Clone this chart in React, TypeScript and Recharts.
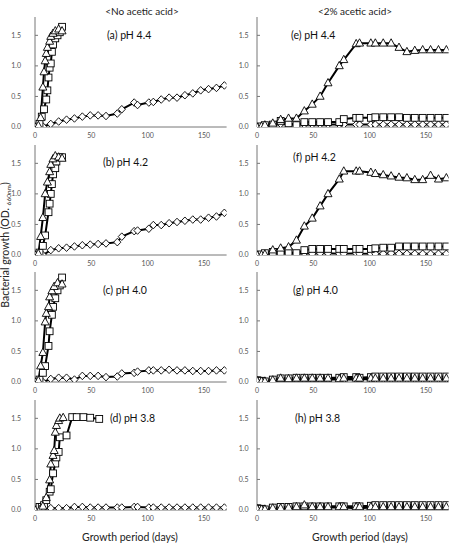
import React from 'react';
import { LineChart, Line, XAxis, YAxis } from 'recharts';

// ---------- data ----------
const DAYS_LONG = [0, 4, 7, 14, 21, 28, 35, 42, 49, 56, 63, 73, 77, 88, 91, 101, 105, 112, 119, 126, 133, 140, 147, 154, 161, 168];
const X_TICKS = [0, 50, 100, 150];
const Y_TICKS = [0, 0.5, 1.0, 1.5];

// (a) pH 4.4, no acetic acid
const A_TRI_DAYS = [0, 3, 5, 7, 8, 9, 10, 11, 13, 14, 16, 18, 21, 24];
const A_TRI = [0, 0.02, 0.15, 0.65, 0.9, 1.08, 1.2, 1.3, 1.4, 1.48, 1.53, 1.57, 1.6, 1.57];
const A_SQ_DAYS = [0, 4, 6, 8, 10, 11, 12, 13, 14, 15, 16, 18, 20, 22, 24];
const A_SQ = [0, 0.05, 0.17, 0.29, 0.45, 0.6, 0.81, 0.97, 1.04, 1.23, 1.35, 1.45, 1.5, 1.55, 1.64];
const A_DIA = [0, 0.04, 0.01, 0.05, 0.09, 0.12, 0.14, 0.17, 0.19, 0.19, 0.18, 0.22, 0.29, 0.4, 0.36, 0.4, 0.41, 0.45, 0.48, 0.48, 0.52, 0.55, 0.6, 0.62, 0.64, 0.68];

// (b) pH 4.2
const B_TRI_DAYS = [0, 3, 5, 7, 9, 11, 13, 14, 16, 18, 21, 24];
const B_TRI = [0, 0.02, 0.3, 0.61, 1.0, 1.19, 1.36, 1.48, 1.57, 1.62, 1.6, 1.58];
const B_SQ_DAYS = [0, 4, 7, 9, 12, 13, 14, 15, 16, 18, 19, 22, 24];
const B_SQ = [0, 0.04, 0.15, 0.32, 0.7, 0.84, 1.0, 1.16, 1.32, 1.42, 1.53, 1.6, 1.6];
const B_DIA = [0, 0.03, 0, 0.08, 0.11, 0.12, 0.14, 0.16, 0.17, 0.18, 0.19, 0.21, 0.3, 0.39, 0.4, 0.43, 0.49, 0.49, 0.52, 0.54, 0.56, 0.58, 0.58, 0.61, 0.63, 0.69];

// (c) pH 4.0
const C_TRI_DAYS = [0, 3, 5, 7, 9, 10, 12, 13, 15, 17, 20, 24];
const C_TRI = [0, 0.02, 0.26, 0.48, 0.98, 1.12, 1.23, 1.39, 1.49, 1.56, 1.62, 1.6];
const C_SQ_DAYS = [0, 4, 7, 9, 12, 13, 15, 16, 18, 20, 22, 24];
const C_SQ = [0, 0.04, 0.15, 0.26, 0.59, 0.83, 1.1, 1.23, 1.37, 1.5, 1.58, 1.71];
const C_DIA = [0, 0.02, 0, 0.05, 0.07, 0.07, 0.04, 0.1, 0.1, 0.1, 0.08, 0.09, 0.14, 0.15, 0.17, 0.19, 0.19, 0.19, 0.2, 0.19, 0.19, 0.18, 0.18, 0.18, 0.19, 0.19];

// (d) pH 3.8
const D_TRI_DAYS = [0, 4, 7, 10, 13, 14, 16, 17, 18, 19, 21, 22, 25];
const D_TRI = [0, 0, 0.06, 0.2, 0.49, 0.75, 0.89, 0.97, 1.27, 1.38, 1.46, 1.5, 1.51];
const D_SQ_DAYS = [0, 4, 6, 8, 10, 13, 14, 16, 18, 19, 21, 22, 28, 33, 37, 43, 49, 57];
const D_SQ = [0, 0.05, 0.05, 0.08, 0.16, 0.3, 0.34, 0.6, 0.76, 0.86, 0.95, 1.19, 1.22, 1.52, 1.52, 1.52, 1.51, 1.49];
const D_DIA = [0, 0, 0.02, 0.03, 0.03, 0.03, 0.05, 0.05, 0.04, 0.04, 0.04, 0.04, 0.04, 0.05, 0.05, 0.04, 0.04, 0.04, 0.04, 0.04, 0.04, 0.04, 0.04, 0.04, 0.04, 0.04];

// (e) pH 4.4, 2% acetic acid
const E_TRI = [0, 0.01, 0.03, 0.06, 0.12, 0.14, 0.14, 0.26, 0.37, 0.5, 0.72, 1.0, 1.1, 1.36, 1.37, 1.37, 1.37, 1.37, 1.37, 1.3, 1.23, 1.25, 1.26, 1.26, 1.26, 1.26];
const E_SQ = [0, 0.01, 0.03, 0.04, 0.1, 0.06, 0.03, 0.08, 0.08, 0.08, 0.08, 0.08, 0.13, 0.15, 0.15, 0.15, 0.16, 0.16, 0.16, 0.16, 0.15, 0.15, 0.15, 0.15, 0.15, 0.15];
const E_DIA = [0, 0.01, 0.02, 0.03, 0.05, 0.04, 0.04, 0.04, 0.04, 0.04, 0.04, 0.04, 0.04, 0.04, 0.04, 0.04, 0.04, 0.04, 0.04, 0.04, 0.04, 0.04, 0.04, 0.04, 0.04, 0.04];

// (f) pH 4.2
const F_TRI = [0, 0, 0.01, 0.08, 0.11, 0.13, 0.24, 0.47, 0.6, 0.8, 1.0, 1.24, 1.37, 1.37, 1.37, 1.35, 1.33, 1.31, 1.29, 1.27, 1.26, 1.23, 1.23, 1.3, 1.24, 1.26];
const F_SQ = [0, 0.01, 0.03, 0.05, 0.05, 0.05, 0.03, 0.08, 0.1, 0.1, 0.1, 0.1, 0.1, 0.1, 0.1, 0.1, 0.11, 0.12, 0.12, 0.14, 0.14, 0.14, 0.14, 0.14, 0.14, 0.14];
const F_DIA = [0, 0, 0.01, 0.02, 0.03, 0.03, 0.02, 0.03, 0.02, 0.03, 0.03, 0.02, 0.02, 0.03, 0.02, 0.02, 0.02, 0.02, 0.03, 0.02, 0.02, 0.02, 0.02, 0.02, 0.02, 0.02];

// (g) pH 4.0
const G_TRI = [0.02, 0.01, 0.01, 0.03, 0.06, 0.05, 0.06, 0.06, 0.06, 0.06, 0.06, 0.05, 0.06, 0.06, 0.06, 0.06, 0.06, 0.06, 0.06, 0.06, 0.06, 0.06, 0.06, 0.06, 0.06, 0.06];
const G_SQ = [0.03, 0.02, 0.01, 0.04, 0.06, 0.06, 0.07, 0.07, 0.07, 0.07, 0.07, 0.07, 0.08, 0.08, 0.07, 0.08, 0.09, 0.09, 0.09, 0.09, 0.09, 0.09, 0.09, 0.09, 0.09, 0.09];
const G_DIA = [0, 0.01, 0.01, 0.02, 0.03, 0.03, 0.04, 0.04, 0.04, 0.04, 0.04, 0.04, 0.04, 0.04, 0.04, 0.05, 0.05, 0.05, 0.05, 0.05, 0.05, 0.05, 0.05, 0.05, 0.05, 0.05];

// (h) pH 3.8
const H_TRI = [0.02, 0.01, 0.01, 0.03, 0.03, 0.04, 0.05, 0.08, 0.05, 0.05, 0.05, 0.05, 0.05, 0.05, 0.05, 0.05, 0.05, 0.05, 0.05, 0.05, 0.05, 0.05, 0.05, 0.05, 0.05, 0.05];
const H_SQ = [0.03, 0.02, 0.01, 0.04, 0.05, 0.05, 0.06, 0.06, 0.06, 0.06, 0.06, 0.06, 0.06, 0.06, 0.06, 0.07, 0.08, 0.08, 0.08, 0.08, 0.08, 0.08, 0.08, 0.08, 0.08, 0.08];
const H_DIA = [0, 0.01, 0.01, 0.02, 0.03, 0.03, 0.03, 0.04, 0.04, 0.04, 0.04, 0.04, 0.04, 0.03, 0.03, 0.04, 0.04, 0.04, 0.04, 0.04, 0.04, 0.04, 0.04, 0.04, 0.04, 0.04];

const PANEL_LABELS = ['(a) pH 4.4', '(b) pH 4.2', '(c) pH 4.0', '(d) pH 3.8', '(e) pH 4.4', '(f) pH 4.2', '(g) pH 4.0', '(h) pH 3.8'];
const COLUMN_TITLES = ['<No acetic acid>', '<2% acetic acid>'];
const X_TITLE = 'Growth period (days)';
const Y_TITLE = 'Bacterial growth (OD. ';
const Y_TITLE_SUB = '660nm';
const Y_TITLE_END = ')';

// ---------- helpers ----------
const zip = (days: number[], vals: number[]) => days.map((d, i) => ({ x: d, y: vals[i] }));

const FONT = 'Lato, "Open Sans", sans-serif';
const CHART_W = 230;
const CHART_H = 145;
const PLOT_TOP = 17;
const PLOT_H = 110;
const Y_AXIS_W = 35;
const ROW_TOPS = [0, 128, 255, 383];
const COL_LEFTS = [0, 222];
const AXIS_COLOR = '#777';
const TICK_COLOR = '#555';
const LINE_W = 2;

const TriDot = (props: any) => {
  const { cx, cy, index } = props;
  if (cx == null || cy == null) return null;
  return (
    <path key={`t${index}`} d={`M${cx},${cy - 4.5}L${cx + 4},${cy + 2.8}L${cx - 4},${cy + 2.8}Z`}
      fill="#fff" stroke="#000" strokeWidth={0.9} />
  );
};
const SqDot = (props: any) => {
  const { cx, cy, index } = props;
  if (cx == null || cy == null) return null;
  return <rect key={`s${index}`} x={cx - 3.4} y={cy - 3.4} width={6.8} height={6.8} fill="#fff" stroke="#000" strokeWidth={0.9} />;
};
const DiaDot = (props: any) => {
  const { cx, cy, index } = props;
  if (cx == null || cy == null) return null;
  return (
    <path key={`d${index}`} d={`M${cx},${cy - 3.8}L${cx + 3.6},${cy}L${cx},${cy + 3.8}L${cx - 3.6},${cy}Z`}
      fill="#fff" stroke="#000" strokeWidth={0.9} />
  );
};

type PanelProps = {
  left: number; top: number;
  tri: { x: number; y: number }[];
  sq: { x: number; y: number }[];
  dia: { x: number; y: number }[];
  yTickMargin: number;
};

function Panel({ left, top, tri, sq, dia, yTickMargin }: PanelProps) {
  return (
    <div style={{ position: 'absolute', left, top }}>
      <LineChart width={CHART_W} height={CHART_H}
        margin={{ top: PLOT_TOP, right: 3.4, bottom: CHART_H - PLOT_TOP - PLOT_H - 18, left: 0 }}>
        <XAxis type="number" dataKey="x" domain={[0, 170]} ticks={X_TICKS} allowDataOverflow
          height={18} stroke={AXIS_COLOR} tickLine={false} tickSize={0} tickMargin={6}
          tick={{ fontSize: 7, fill: TICK_COLOR, fontFamily: FONT }} />
        <YAxis type="number" dataKey="y" domain={[0, 1.8]} ticks={Y_TICKS} allowDataOverflow
          width={Y_AXIS_W} stroke={AXIS_COLOR} tickSize={-3} tickMargin={yTickMargin}
          tickFormatter={(v: number) => v.toFixed(1)}
          tick={{ fontSize: 7, fill: TICK_COLOR, fontFamily: FONT }} />
        <Line data={dia} dataKey="y" stroke="#000" strokeWidth={LINE_W} dot={DiaDot} isAnimationActive={false} />
        <Line data={sq} dataKey="y" stroke="#000" strokeWidth={LINE_W} dot={SqDot} isAnimationActive={false} />
        <Line data={tri} dataKey="y" stroke="#000" strokeWidth={LINE_W} dot={TriDot} isAnimationActive={false} />
      </LineChart>
    </div>
  );
}

const LEFT_PANELS = [
  { tri: zip(A_TRI_DAYS, A_TRI), sq: zip(A_SQ_DAYS, A_SQ), dia: zip(DAYS_LONG, A_DIA) },
  { tri: zip(B_TRI_DAYS, B_TRI), sq: zip(B_SQ_DAYS, B_SQ), dia: zip(DAYS_LONG, B_DIA) },
  { tri: zip(C_TRI_DAYS, C_TRI), sq: zip(C_SQ_DAYS, C_SQ), dia: zip(DAYS_LONG, C_DIA) },
  { tri: zip(D_TRI_DAYS, D_TRI), sq: zip(D_SQ_DAYS, D_SQ), dia: zip(DAYS_LONG, D_DIA) },
];
const RIGHT_PANELS = [
  { tri: zip(DAYS_LONG, E_TRI), sq: zip(DAYS_LONG, E_SQ), dia: zip(DAYS_LONG, E_DIA) },
  { tri: zip(DAYS_LONG, F_TRI), sq: zip(DAYS_LONG, F_SQ), dia: zip(DAYS_LONG, F_DIA) },
  { tri: zip(DAYS_LONG, G_TRI), sq: zip(DAYS_LONG, G_SQ), dia: zip(DAYS_LONG, G_DIA) },
  { tri: zip(DAYS_LONG, H_TRI), sq: zip(DAYS_LONG, H_SQ), dia: zip(DAYS_LONG, H_DIA) },
];

const LABEL_POS = [
  [107, 39], [103, 166], [103, 294], [110, 422],
  [291, 39], [293, 161], [293, 294], [295, 422],
];

export default function App() {
  return (
    <div style={{ position: 'absolute', left: 0, top: 0, width: 458, height: 545, overflow: 'hidden', background: '#fff' }}>
      {LEFT_PANELS.map((p, i) => (
        <Panel key={`l${i}`} left={COL_LEFTS[0]} top={ROW_TOPS[i]} tri={p.tri} sq={p.sq} dia={p.dia} yTickMargin={17} />
      ))}
      {RIGHT_PANELS.map((p, i) => (
        <Panel key={`r${i}`} left={COL_LEFTS[1]} top={ROW_TOPS[i]} tri={p.tri} sq={p.sq} dia={p.dia} yTickMargin={11.5} />
      ))}
      <svg width={458} height={545} style={{ position: 'absolute', left: 0, top: 0, pointerEvents: 'none' }}>
        <text x={142} y={15} textAnchor="middle" fontSize={10} fontFamily={FONT} fill="#222">{COLUMN_TITLES[0]}</text>
        <text x={355} y={15} textAnchor="middle" fontSize={10} fontFamily={FONT} fill="#222">{COLUMN_TITLES[1]}</text>
        {PANEL_LABELS.map((t, i) => (
          <text key={t} x={LABEL_POS[i][0]} y={LABEL_POS[i][1]} fontSize={10.5} fontFamily={FONT} fill="#111">{t}</text>
        ))}
        <text x={130} y={541} textAnchor="middle" fontSize={10.5} fontFamily={FONT} fill="#222">{X_TITLE}</text>
        <text x={360} y={541} textAnchor="middle" fontSize={10.5} fontFamily={FONT} fill="#222">{X_TITLE}</text>
        <text transform="translate(9,245) rotate(-90)" textAnchor="middle" fontSize={10.5} fontFamily={FONT} fill="#222">
          {Y_TITLE}
          <tspan fontSize={6.5} dy={2}>{Y_TITLE_SUB}</tspan>
          <tspan dy={-2}>{Y_TITLE_END}</tspan>
        </text>
      </svg>
    </div>
  );
}
